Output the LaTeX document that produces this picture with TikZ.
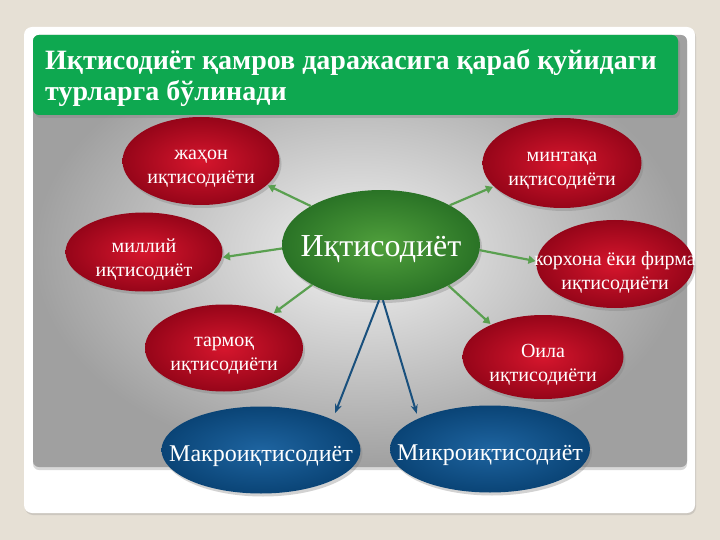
\documentclass[tikz,border=0pt]{standalone}
\usepackage{fontspec}
\setmainfont{Liberation Serif}
\usetikzlibrary{shapes.geometric,shadows,arrows.meta}
\definecolor{bgbeige}{RGB}{230,224,213}
\definecolor{titlegreen}{RGB}{14,168,80}
\definecolor{redin}{RGB}{214,22,45}
\definecolor{redout}{RGB}{150,5,25}
\definecolor{bluein}{RGB}{30,100,160}
\definecolor{blueout}{RGB}{10,68,118}
\definecolor{grin}{RGB}{80,160,60}
\definecolor{grout}{RGB}{42,115,38}
\definecolor{arrgreen}{RGB}{90,160,80}
\definecolor{arrblue}{RGB}{25,80,125}
\definecolor{panelin}{RGB}{242,242,242}
\definecolor{panelout}{RGB}{160,160,160}
\newcommand{\zw}[2]{\raisebox{#1}[\height][\depth]{\makebox[0pt]{#2}}}
\tikzset{
  ell/.style={ellipse, inner sep=0pt, align=center, text=white,
    drop shadow={opacity=0.35, shadow xshift=2pt, shadow yshift=-3pt}},
  redell/.style={ell, shading=radial, inner color=redin, outer color=redout,
    minimum width=157pt, minimum height=86pt},
  redtxt/.style={align=center, text=white, inner sep=0pt, yshift=-8pt,
    font=\fontsize{20}{24}\selectfont},
  blueell/.style={ell, shading=radial, inner color=bluein, outer color=blueout,
    font=\fontsize{24}{28}\selectfont, minimum width=200pt, minimum height=87pt},
  greenell/.style={ell, shading=radial, inner color=grin, outer color=grout,
    font=\fontsize{32}{36}\selectfont, minimum width=198pt, minimum height=110pt},
  garrow/.style={draw=arrgreen, line width=2.2pt, -{Triangle[length=7pt,width=8pt]}, shorten >=1pt},
  barrow/.style={draw=arrblue, line width=2pt, -{Stealth[length=9pt,width=7pt]}},
}
\begin{document}
\begin{tikzpicture}[x=1pt,y=-1pt]
\useasboundingbox (0,0) rectangle (720,540);
\fill[bgbeige] (0,0) rectangle (720,540);
% card
\fill[white, rounded corners=8pt, drop shadow={opacity=0.25, shadow xshift=1pt, shadow yshift=-2pt}] (24,27) rectangle (695,513);
% panel
\shade[rounded corners=6pt, inner color=panelin, outer color=panelout, drop shadow={opacity=0.3, shadow xshift=0pt, shadow yshift=-3pt}] (33,35) rectangle (687,467);
% title bar
\fill[titlegreen, rounded corners=6pt, drop shadow={opacity=0.35, shadow xshift=2pt, shadow yshift=-3pt}] (33,35) rectangle (678,115);
\node[anchor=west, text=white, align=left, inner sep=0pt,
  font=\bfseries\fontsize{28}{31}\selectfont] (title) at (45,78)
  {Иқтисодиёт қамров даражасига қараб қуйидаги\\турларга бўлинади};

% nodes
\node[greenell] (c) at (381,245) {\zw{-4pt}{Иқтисодиёт}};
\node[redell, minimum height=88pt] (w) at (201,161) {};
\node[redtxt] (wt) at (w.center) {жаҳон\\иқтисодиёти};
\node[redell, minimum width=159pt, minimum height=90pt] (m) at (562,163) {};
\node[redtxt] (mt) at (m.center) {минтақа\\иқтисодиёти};
\node[redell, minimum height=79pt] (n) at (144,252) {};
\node[redtxt] (nt) at (n.center) {миллий\\иқтисодиёт};
\node[redell, minimum height=88pt] (k) at (615,264) {};
\node[redtxt] (kt) at (k.center) {корхона ёки фирма\\иқтисодиёти};
\node[redell, minimum width=158pt, minimum height=87pt] (t) at (224,348) {};
\node[redtxt] (tt) at (t.center) {тармоқ\\иқтисодиёти};
\node[redell, minimum width=161pt, minimum height=84pt] (o) at (543,357) {};
\node[redtxt] (ot) at (o.center) {Оила\\иқтисодиёти};
\node[blueell, minimum width=199pt] (mac) at (261,450) {\zw{-6pt}{Макроиқтисодиёт}};
\node[blueell] (mic) at (490,449) {\zw{-6pt}{Микроиқтисодиёт}};

% connectors
\draw[garrow] (c.151) -- (w.-20);
\draw[garrow] (c.30) -- (m.199);
\draw[garrow] (c.182) -- (n.-4);
\draw[garrow] (c.-3) -- (k.178);
\draw[garrow] (c.210) -- (t.35);
\draw[garrow] (c.-31) -- (o.148);
\draw[barrow, shorten >=7pt] (c.268) -- (mac.23);
\draw[barrow, shorten >=5pt] (c.272) -- (mic.157);
\end{tikzpicture}
\end{document}
